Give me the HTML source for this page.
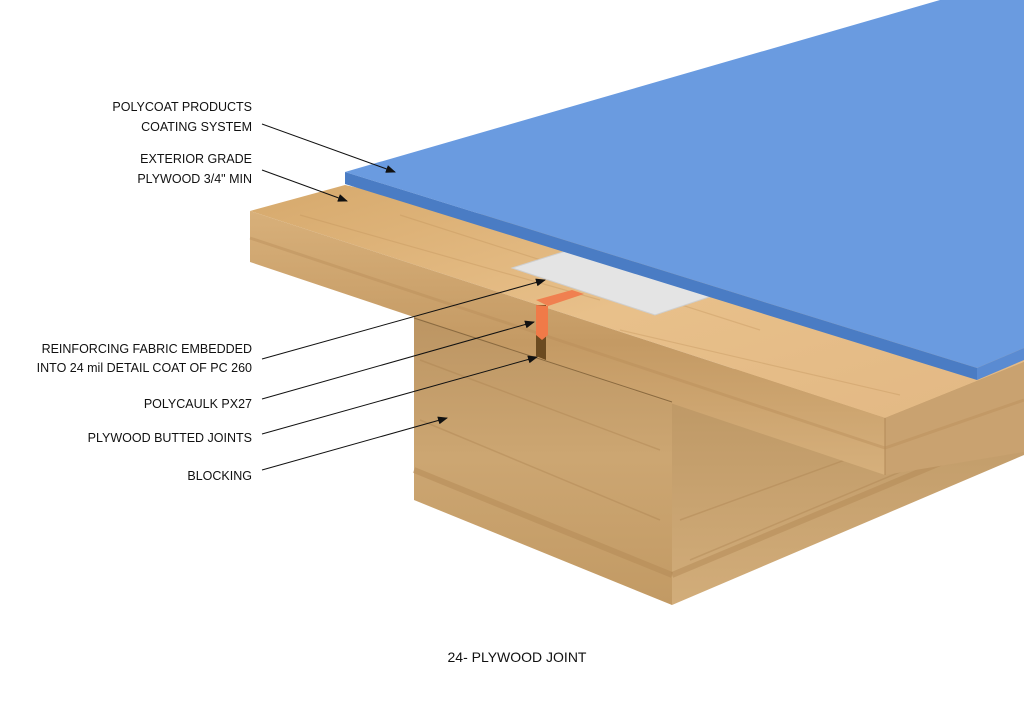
<!DOCTYPE html>
<html><head><meta charset="utf-8"><style>
body{margin:0;background:#fff;width:1024px;height:720px;overflow:hidden}
svg{display:block}
text{font-family:"Liberation Sans",sans-serif;font-size:12.5px;fill:#111}
</style></head><body>
<svg width="1024" height="720" viewBox="0 0 1024 720">
<defs>
<linearGradient id="wf" x1="0" y1="0" x2="0" y2="1">
<stop offset="0" stop-color="#d8b07a"/><stop offset="0.5" stop-color="#c49a64"/><stop offset="1" stop-color="#d6b07c"/></linearGradient>
<linearGradient id="wt" x1="0" y1="0" x2="1" y2="1">
<stop offset="0" stop-color="#d6a96c"/><stop offset="0.5" stop-color="#e8c08a"/><stop offset="1" stop-color="#e2b884"/></linearGradient>
<linearGradient id="bf" x1="0" y1="0" x2="0" y2="1">
<stop offset="0" stop-color="#bb9462"/><stop offset="0.5" stop-color="#cca672"/><stop offset="1" stop-color="#c29a64"/></linearGradient>
<linearGradient id="br" x1="0" y1="0" x2="0" y2="1">
<stop offset="0" stop-color="#b08a58"/><stop offset="1" stop-color="#d2ad7a"/></linearGradient>
<marker id="a" markerWidth="10" markerHeight="8" refX="9" refY="4" orient="auto" markerUnits="userSpaceOnUse">
<path d="M0,0 L10,4 L0,8 z" fill="#111"/></marker>
</defs>
<!-- blocking -->
<polygon points="414,310 672,395 672,605 414,500" fill="url(#bf)"/>
<polygon points="672,395 1024,250 1024,455 672,605" fill="url(#br)"/>
<line x1="414" y1="470" x2="672" y2="575" stroke="#b48a56" stroke-width="6" opacity=".5"/>
<line x1="672" y1="575" x2="1024" y2="428" stroke="#b48a56" stroke-width="6" opacity=".5"/>
<g stroke="#a87e4c" stroke-width="1.5" opacity=".35">
<line x1="420" y1="360" x2="660" y2="450"/><line x1="420" y1="420" x2="660" y2="520"/>
<line x1="690" y1="560" x2="1000" y2="430"/><line x1="680" y1="520" x2="900" y2="440"/>
</g>
<!-- plywood -->
<polygon points="250,211 345,185 1024,330 1024,362 885,418" fill="url(#wt)"/>
<polygon points="250,211 885,418 885,475 250,262" fill="url(#wf)"/>
<polygon points="885,418 1024,362 1024,452 885,475" fill="#c9a270"/>
<line x1="885" y1="418" x2="885" y2="475" stroke="#b38a58"/>
<line x1="250" y1="238" x2="885" y2="448" stroke="#b88c58" stroke-width="3" opacity=".4"/>
<line x1="885" y1="448" x2="1024" y2="400" stroke="#b88c58" stroke-width="3" opacity=".4"/>
<g stroke="#c0925a" stroke-width="1.2" opacity=".35">
<line x1="300" y1="215" x2="600" y2="300"/><line x1="400" y1="215" x2="760" y2="330"/>
<line x1="620" y1="330" x2="900" y2="395"/>
</g>
<!-- joint -->
<polygon points="536,305 546,305 546,360 536,356" fill="#6b4a20"/>
<line x1="414" y1="318" x2="672" y2="402" stroke="#8a6a40" stroke-width="1"/>
<polygon points="536,300 572,290 584,294 548,306" fill="#f08050"/>
<polygon points="536,305 548,306 548,335 542,340 536,335" fill="#f07a48"/>
<!-- fabric -->
<polygon points="512,268 566,251 712,296 655,315" fill="#e4e4e4" stroke="#cfcfcf"/>
<!-- blue -->
<polygon points="345,172 940,0 1024,0 1024,348 977,368" fill="#6a9be0"/>
<polygon points="345,172 977,368 977,380 345,184" fill="#4a7cc4"/>
<polygon points="977,368 1024,348 1024,360 977,380" fill="#5a8bd2"/>
<!-- labels -->
<g text-anchor="end">
<text x="252" y="111">POLYCOAT PRODUCTS</text>
<text x="252" y="131">COATING SYSTEM</text>
<text x="252" y="163">EXTERIOR GRADE</text>
<text x="252" y="183">PLYWOOD 3/4" MIN</text>
<text x="252" y="353">REINFORCING FABRIC EMBEDDED</text>
<text x="252" y="372">INTO 24 mil DETAIL COAT OF PC 260</text>
<text x="252" y="408">POLYCAULK PX27</text>
<text x="252" y="442">PLYWOOD BUTTED JOINTS</text>
<text x="252" y="480">BLOCKING</text>
</g>
<g stroke="#111" stroke-width="1" fill="none" marker-end="url(#a)">
<line x1="262" y1="124" x2="395" y2="172"/>
<line x1="262" y1="170" x2="347" y2="201"/>
<line x1="262" y1="359" x2="545" y2="280"/>
<line x1="262" y1="399" x2="534" y2="322"/>
<line x1="262" y1="434" x2="537" y2="357"/>
<line x1="262" y1="470" x2="447" y2="418"/>
</g>
<text x="517" y="662" text-anchor="middle" style="font-size:14px">24- PLYWOOD JOINT</text>
</svg>
</body></html>
